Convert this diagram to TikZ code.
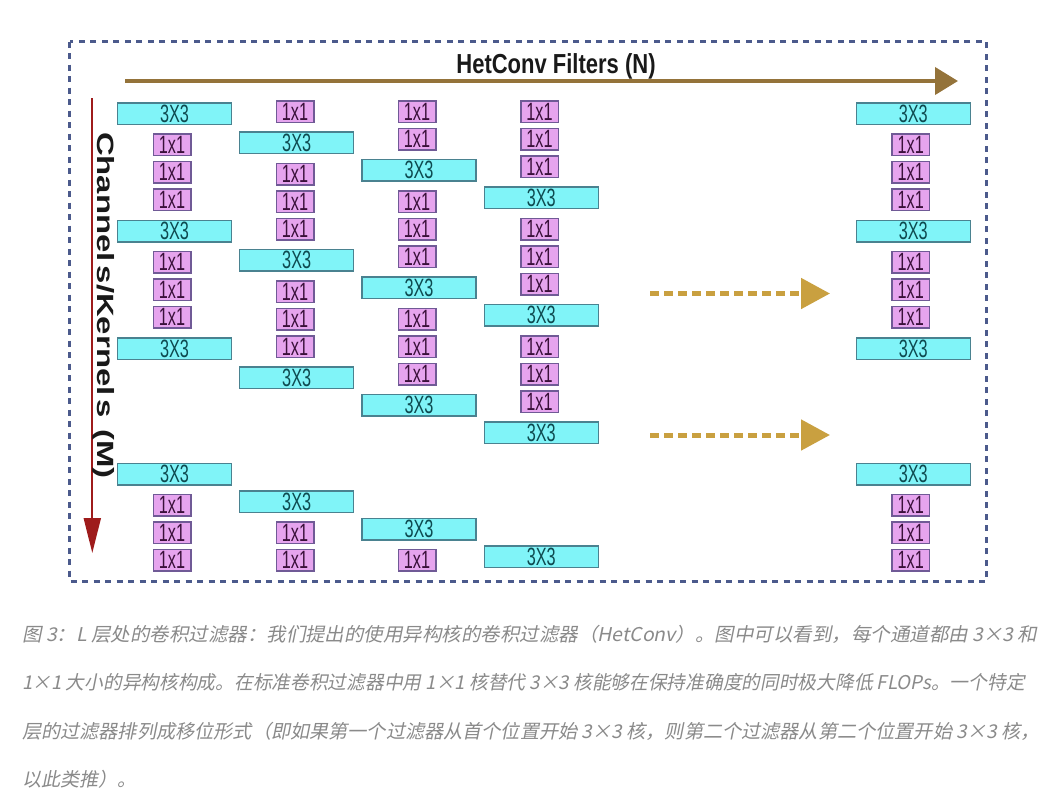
\documentclass[tikz,border=0pt]{standalone}
\usepackage{fontspec}
\usepackage{xcolor}
\usepackage{tikz}
\usetikzlibrary{arrows.meta}
\setmainfont{Liberation Sans}
\newfontfamily\strettofont[FakeStretch=0.65]{Liberation Sans}
\newfontfamily\titolofont[FakeStretch=0.8]{Liberation Sans}
\newfontfamily\latofont[FakeStretch=1.4]{Liberation Sans}
\newfontfamily\cjkfont[FakeSlant=0.2]{Noto Sans CJK SC}
\definecolor{cornice}{HTML}{4B5A8C}
\definecolor{filtri}{HTML}{94733A}
\definecolor{canali}{HTML}{9E1B1B}
\definecolor{punti}{HTML}{C9A040}
\definecolor{fondotre}{HTML}{80F4F8}
\definecolor{bordotre}{HTML}{4A8290}
\definecolor{testotre}{HTML}{0E4A50}
\definecolor{fondouno}{HTML}{E6A4EE}
\definecolor{bordouno}{HTML}{705A96}
\definecolor{testouno}{HTML}{3A103A}
\definecolor{grigio}{HTML}{8A8A8A}

\tikzset{
  tre/.style={draw=bordotre, fill=fondotre, line width=1.5pt, inner sep=0pt,
    minimum width=114pt, minimum height=21.5pt, text=testotre,
    font=\strettofont\fontsize{25}{25}\selectfont},
  uno/.style={draw=bordouno, fill=fondouno, line width=1.5pt, inner sep=0pt,
    minimum width=37.5pt, minimum height=21.5pt, text=testouno,
    font=\strettofont\fontsize{25}{25}\selectfont},
  didascalia/.style={anchor=base west, inner sep=0pt, text=grigio,
    font=\cjkfont\fontsize{19}{19}\selectfont}
}

\begin{document}
\begin{tikzpicture}[x=1pt,y=-1pt]

% Sfondo e dimensioni
\fill[white] (0,0) rectangle (1041,801);
\useasboundingbox (0,0) rectangle (1041,801);

% Cornice tratteggiata
\draw[cornice, line width=3pt, dash pattern=on 6pt off 5.5pt] (69.5,41.5) rectangle (986.5,581);

% Freccia dei filtri (N)
\coordinate (nin) at (125,81);
\coordinate (nout) at (958,81);
\draw[filtri, line width=4pt, -{Triangle[length=23pt,width=27pt]}] (nin) -- (nout);
\node[anchor=base, inner sep=0pt, text=black!90, font=\titolofont\bfseries\fontsize{27.5}{30}\selectfont] (titolo) at (556,73) {HetConv Filters (N)};

% Freccia dei canali (M)
\coordinate (min) at (92.3,98);
\coordinate (mout) at (92.3,553);
\draw[canali, line width=2pt, -{Triangle[length=35pt,width=17pt]}] (min) -- (mout);
\node[rotate=-90, inner sep=0pt, text=black!90, font=\latofont\bfseries\fontsize{23.5}{25}\selectfont] (canali) at (104,305.5) {Channel\,s/Kernel\,s\enspace(M)};

% Colonne 1 e 5
\foreach \c/\x in {a/174.5, e/913.3}
{
    \foreach \y [count=\i] in {113.5,231,348.5,474}
        \node[tre] (\c3-\i) at (\x,\y) {3X3};
    \foreach \y [count=\i] in {144.75,172.25,199.75,262.25,289.75,317.25,505.25,532.75,560.25}
        \node[uno] (\c1-\i) at (\x-2.5,\y) {1x1};
}

% Colonna 2
\foreach \y [count=\i] in {142.75,260.25,377.75,501.5}
    \node[tre] (b3-\i) at (296.7,\y) {3X3};
\foreach \y [count=\i] in {111.5,174,201.5,229,291.5,319,346.5,532.75,560.25}
    \node[uno] (b1-\i) at (295,\y) {1x1};

% Colonna 3
\foreach \y [count=\i] in {170.25,287.75,405.25,529}
    \node[tre] (c3-\i) at (419,\y) {3X3};
\foreach \y [count=\i] in {111.5,139,201.5,229,256.5,319,346.5,374,560.25}
    \node[uno] (c1-\i) at (417,\y) {1x1};

% Colonna 4
\foreach \y [count=\i] in {197.75,315.25,432.75,556.5}
    \node[tre] (d3-\i) at (541.3,\y) {3X3};
\foreach \y [count=\i] in {111.5,139,166.5,229,256.5,284,346.5,374,401.5}
    \node[uno] (d1-\i) at (539.5,\y) {1x1};

% Frecce puntinate
\coordinate (p1) at (650,293.5);
\coordinate (q1) at (830,293.5);
\coordinate (p2) at (650,435);
\coordinate (q2) at (830,435);
\draw[punti, line width=5pt, dash pattern=on 9pt off 5pt, -{Triangle[length=29pt,width=30pt]}] (p1) -- (q1);
\draw[punti, line width=5pt, dash pattern=on 9pt off 5pt, -{Triangle[length=29pt,width=30pt]}] (p2) -- (q2);

% Didascalia
\node[didascalia] (riga1) at (22,641) {\scalebox{1.025}[1]{图 3：L 层处的卷积过滤器：我们提出的使用异构核的卷积过滤器（HetConv）。图中可以看到，每个通道都由 3×3 和}};
\node[didascalia] (riga2) at (22,689.5) {\scalebox{0.985}[1]{1×1 大小的异构核构成。在标准卷积过滤器中用 1×1 核替代 3×3 核能够在保持准确度的同时极大降低 FLOPs。一个特定}};
\node[didascalia] (riga3) at (22,738) {\scalebox{1.008}[1]{层的过滤器排列成移位形式（即如果第一个过滤器从首个位置开始 3×3 核，则第二个过滤器从第二个位置开始 3×3 核，}};
\node[didascalia] (riga4) at (22,786.5) {以此类推）。};
\end{tikzpicture}
\end{document}
